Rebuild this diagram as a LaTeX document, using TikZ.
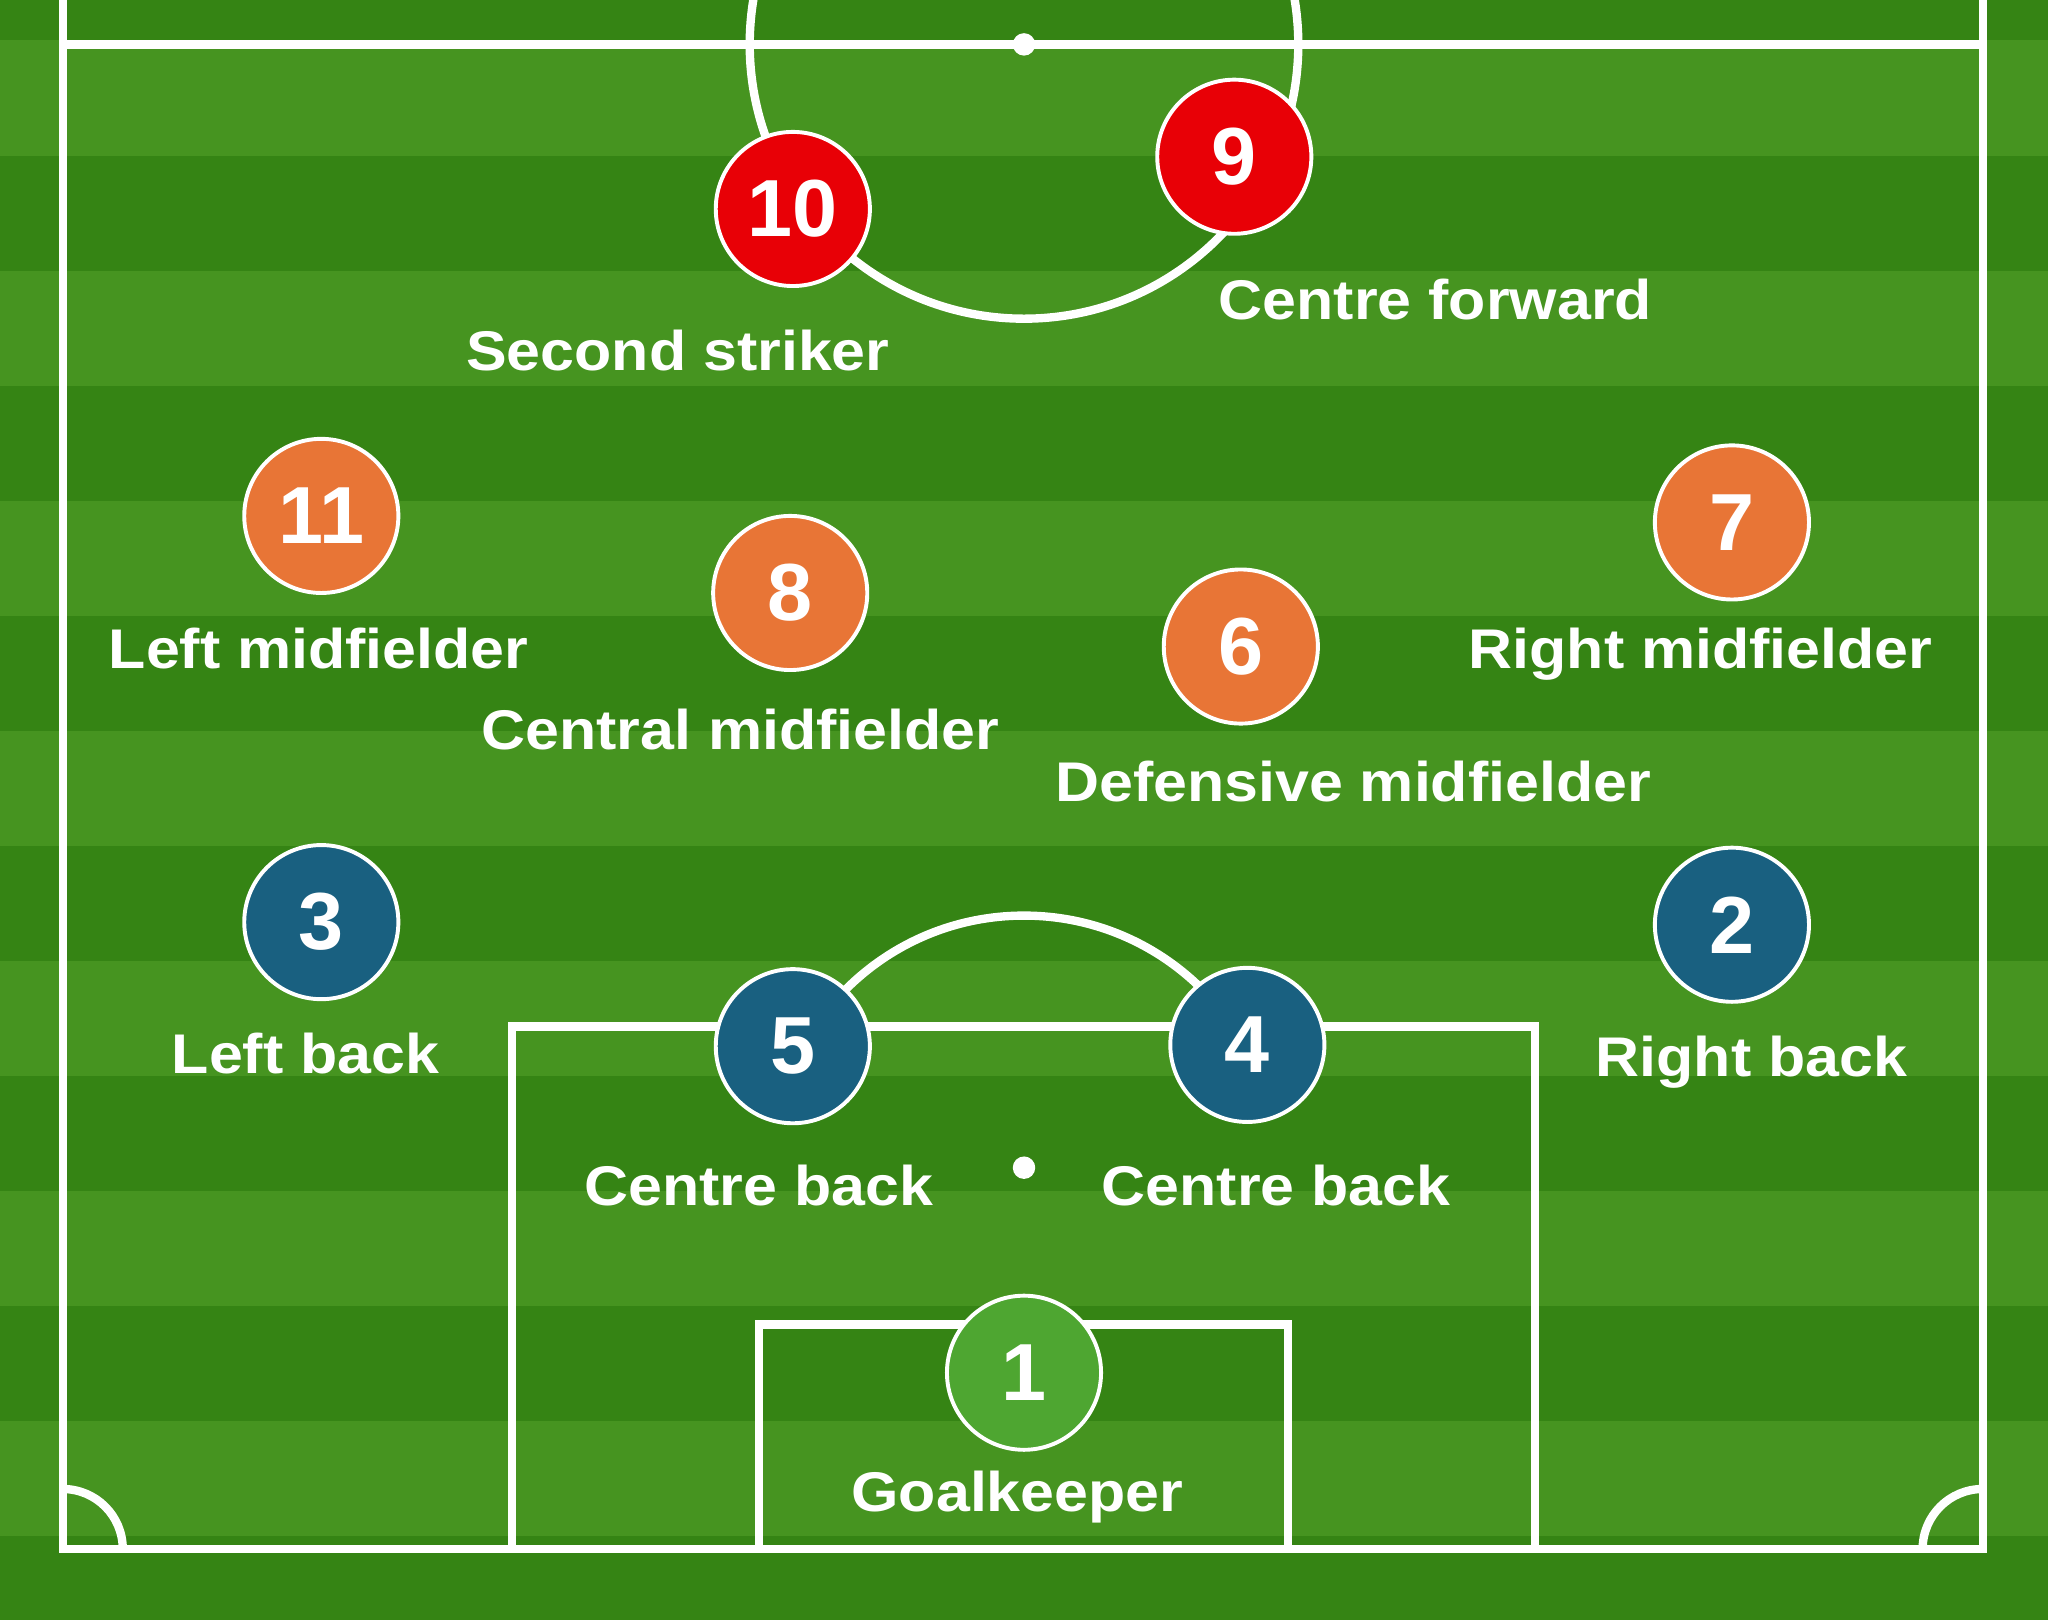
\documentclass[tikz,border=0pt]{standalone}
\usepackage{fontspec}
\newfontfamily\lblf{Liberation Sans}[FakeStretch=1.09]
\newfontfamily\numf{Liberation Sans}
\definecolor{grassL}{RGB}{70,148,32}
\definecolor{grassD}{RGB}{53,132,20}
\definecolor{pred}{RGB}{232,0,6}
\definecolor{porange}{RGB}{232,117,54}
\definecolor{pblue}{RGB}{25,96,128}
\definecolor{pgreen}{RGB}{78,166,49}
\tikzset{
  pitch/.style={draw=white, line width=3.2pt},
  player/.style={circle, draw=white, line width=1.5pt, minimum size=59pt, inner sep=0pt,
    text=white, font=\numf\bfseries\fontsize{31}{33}\selectfont},
  lbl/.style={text=white, anchor=base, inner sep=0pt,
    font=\lblf\bfseries\fontsize{21.4}{25}\selectfont},
}
\begin{document}
\begin{tikzpicture}[x=0.5pt,y=-0.5pt]
\useasboundingbox (0,0) rectangle (1568,1240);
\clip (0,0) rectangle (1568,1240);
% grass
\fill[grassD] (0,0) rectangle (1568,1240);
\foreach \k in {0,...,6}
  \fill[grassL] (0,{31+176.2*\k}) rectangle (1568,{119.1+176.2*\k});
% pitch markings
\draw[pitch] (48,-10) -- (48,1186) -- (1518,1186) -- (1518,-10);
\draw[pitch] (48,34) -- (1518,34);
\draw[pitch] (784,34) circle[radius=105pt];
\fill[white] (784,34) circle[radius=4.3pt];
\draw[pitch] (392,1186) -- (392,786) -- (1175,786) -- (1175,1186);
\draw[pitch] (581,1186) -- (581,1014) -- (986,1014) -- (986,1186);
\fill[white] (784,894) circle[radius=4.3pt];
\begin{scope}
  \clip (0,0) rectangle (1568,786);
  \draw[pitch] (784,894) circle[radius=96.5pt];
\end{scope}
\begin{scope}
  \clip (48,1100) rectangle (140,1186);
  \draw[pitch] (48,1186) circle[radius=23pt];
\end{scope}
\begin{scope}
  \clip (1430,1100) rectangle (1518,1186);
  \draw[pitch] (1518,1186) circle[radius=23pt];
\end{scope}
% players
\node[player, fill=pred] (p10) at (607,160) {10};
\node[player, fill=pred] (p9) at (945,120) {9};
\node[player, fill=porange] (p11) at (246,395) {11};
\node[player, fill=porange] (p8) at (605,454) {8};
\node[player, fill=porange] (p6) at (950,495) {6};
\node[player, fill=porange] (p7) at (1326,400) {7};
\node[player, fill=pblue] (p3) at (246,706) {3};
\node[player, fill=pblue] (p5) at (607,801) {5};
\node[player, fill=pblue] (p4) at (955,800) {4};
\node[player, fill=pblue] (p2) at (1326,708) {2};
\node[player, fill=pgreen] (p1) at (784,1051) {1};
% labels
\node[lbl] (l10) at (519,284) {Second striker};
\node[lbl] (l9) at (1099,245) {Centre forward};
\node[lbl] (l11) at (244,512) {Left midfielder};
\node[lbl] (l8) at (567,574) {Central midfielder};
\node[lbl] (l6) at (1036,614) {Defensive midfielder};
\node[lbl] (l7) at (1302,512) {Right midfielder};
\node[lbl] (l3) at (234,822) {Left back};
\node[lbl] (l5) at (581,923) {Centre back};
\node[lbl] (l4) at (977,923) {Centre back};
\node[lbl] (l2) at (1341,824) {Right back};
\node[lbl] (l1) at (779,1157) {Goalkeeper};
\end{tikzpicture}
\end{document}
